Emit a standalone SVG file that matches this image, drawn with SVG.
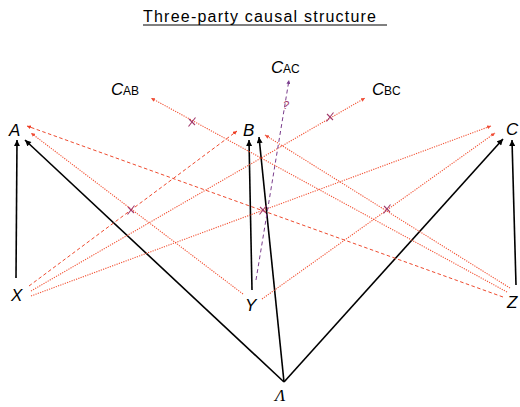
<svg xmlns="http://www.w3.org/2000/svg" width="520" height="407" viewBox="0 0 520 407">
<style>
.lbl{font-family:"Liberation Sans",Arial,sans-serif;font-style:italic;font-size:17px;fill:#000}
.sub{font-family:"Liberation Sans",Arial,sans-serif;font-size:12px;fill:#000}
.blk{stroke:#000;stroke-width:1.6;fill:none}
.dot{stroke:#f2401f;stroke-width:1.1;stroke-dasharray:1.2 1.2;fill:none;opacity:0.9}
.dsh{stroke:#ee4a2e;stroke-width:1;stroke-dasharray:3.5 2.5;fill:none}
.pur{stroke:#7a3d8c;stroke-width:1;stroke-dasharray:4 3;fill:none}
.mk{stroke:#a23a6c;stroke-width:1.1;fill:none}
</style>
<defs>
<marker id="ab" viewBox="0 0 10 10" refX="10" refY="5" markerWidth="7" markerHeight="6" markerUnits="userSpaceOnUse" orient="auto"><path d="M0,0 L10,5 L0,10 z" fill="#000"/></marker>
<marker id="ar" viewBox="0 0 10 10" refX="10" refY="5" markerWidth="4" markerHeight="4" markerUnits="userSpaceOnUse" orient="auto"><path d="M0,0 L10,5 L0,10 z" fill="#ee3b22"/></marker>
<marker id="ap" viewBox="0 0 10 10" refX="10" refY="5" markerWidth="4" markerHeight="4" markerUnits="userSpaceOnUse" orient="auto"><path d="M0,0 L10,5 L0,10 z" fill="#7a3d8c"/></marker>
</defs>
<text x="143" y="22" font-family="'Liberation Sans',Arial,sans-serif" font-size="16" fill="#000" textLength="233">Three-party causal structure</text>
<line x1="143" y1="25" x2="387" y2="25" stroke="#000" stroke-width="1"/>
<g id="connectors">
<line class="blk" x1="16" y1="278" x2="17" y2="140" marker-end="url(#ab)"/>
<line class="blk" x1="284" y1="382" x2="25" y2="140" marker-end="url(#ab)"/>
<line class="blk" x1="252" y1="290" x2="249" y2="140" marker-end="url(#ab)"/>
<line class="blk" x1="284" y1="382" x2="259" y2="137" marker-end="url(#ab)"/>
<line class="blk" x1="284" y1="382" x2="503" y2="139" marker-end="url(#ab)"/>
<line class="blk" x1="516" y1="285" x2="512" y2="140" marker-end="url(#ab)"/>
<line class="dsh" x1="29" y1="286" x2="237" y2="131" marker-end="url(#ar)"/>
<line class="dot" x1="31" y1="296" x2="491" y2="126" marker-end="url(#ar)"/>
<line class="dot" x1="31" y1="291" x2="365" y2="98" marker-end="url(#ar)"/>
<line class="dot" x1="243" y1="294" x2="31" y2="133" marker-end="url(#ar)"/>
<line class="dot" x1="262" y1="299" x2="495" y2="133" marker-end="url(#ar)"/>
<line class="pur" x1="256" y1="280" x2="289" y2="80" marker-end="url(#ap)"/>
<line class="dsh" x1="503" y1="297" x2="27" y2="126" marker-end="url(#ar)"/>
<line class="dot" x1="510" y1="288" x2="265" y2="135" marker-end="url(#ar)"/>
<line class="dot" x1="507" y1="292" x2="151" y2="98" marker-end="url(#ar)"/>
<path class="mk" d="M127.5,214.5 L134.5,205.5 M128,207 L134,213"/>
<path class="mk" d="M259.5,214.5 L266.5,205.5 M260,207 L266,213"/>
<path class="mk" d="M383.5,213.5 L390.5,204.5 M384,206 L390,212"/>
<path class="mk" d="M188.5,126.5 L195.5,117.5 M189,119 L195,125"/>
<path class="mk" d="M326.5,121.5 L333.5,112.5 M327,114 L333,120"/>
<text x="286" y="109" text-anchor="middle" font-family="'Liberation Sans',Arial,sans-serif" font-style="italic" font-size="11" fill="#a23a6c">?</text>
</g>
<g id="A"><text class="lbl" x="9" y="136">A</text></g>
<g id="B"><text class="lbl" x="243" y="136">B</text></g>
<g id="C"><text class="lbl" x="506" y="135">C</text></g>
<g id="X"><text class="lbl" x="11" y="301">X</text></g>
<g id="Y"><text class="lbl" x="245" y="311">Y</text></g>
<g id="Z"><text class="lbl" x="507" y="308">Z</text></g>
<g id="Lambda"><text x="275" y="401" font-family="'Liberation Serif','Times New Roman',serif" font-style="italic" font-size="17" fill="#000">Λ</text></g>
<g id="CAB"><text class="lbl" x="111" y="95" font-size="16">C</text><text class="sub" x="123" y="95">AB</text></g>
<g id="CAC"><text class="lbl" x="271" y="73" font-size="16">C</text><text class="sub" x="283" y="73">AC</text></g>
<g id="CBC"><text class="lbl" x="372" y="95" font-size="16">C</text><text class="sub" x="384" y="95">BC</text></g>
</svg>
